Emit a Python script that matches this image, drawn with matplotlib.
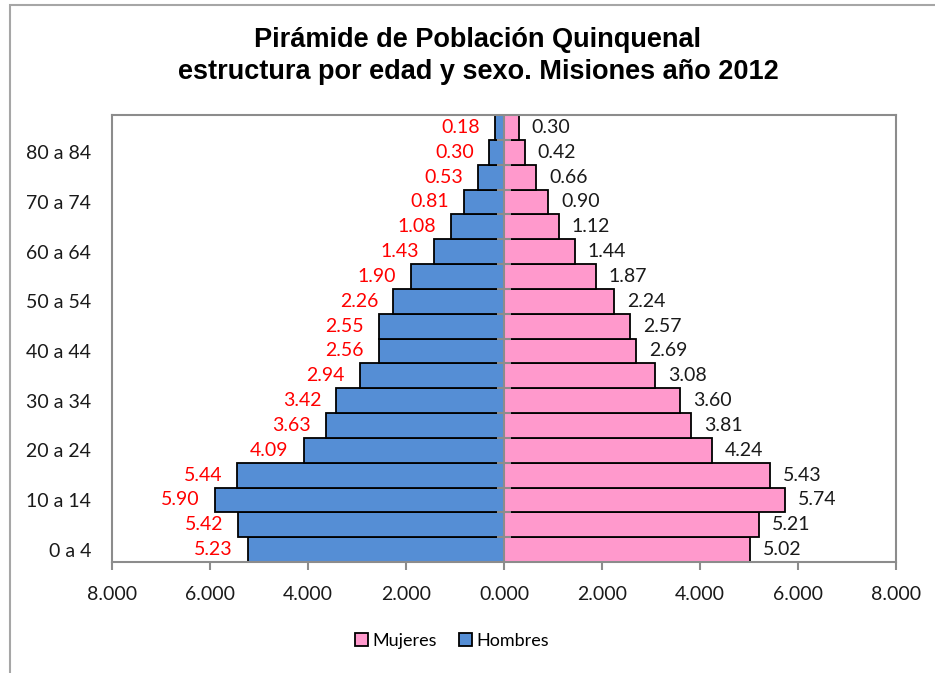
import numpy as np
import matplotlib
matplotlib.use("Agg")
from matplotlib import pyplot as plt
from matplotlib.patches import Rectangle, Patch

# age groups, bottom to top
grupos = ["0 a 4", "5 a 9", "10 a 14", "15 a 19", "20 a 24", "25 a 29",
          "30 a 34", "35 a 39", "40 a 44", "45 a 49", "50 a 54", "55 a 59",
          "60 a 64", "65 a 69", "70 a 74", "75 a 79", "80 a 84", "85 y más"]
hombres = [5.23, 5.42, 5.90, 5.44, 4.09, 3.63, 3.42, 2.94, 2.56, 2.55,
           2.26, 1.90, 1.43, 1.08, 0.81, 0.53, 0.30, 0.18]
mujeres = [5.02, 5.21, 5.74, 5.43, 4.24, 3.81, 3.60, 3.08, 2.69, 2.57,
           2.24, 1.87, 1.44, 1.12, 0.90, 0.66, 0.42, 0.30]
xticks = [-8, -6, -4, -2, 0, 2, 4, 6, 8]

font = ["Lato", "DejaVu Sans"]
gray = "#8c8c8c"
c_h = "#558ed5"
c_m = "#ff99cc"

fig = plt.figure(figsize=(9.35, 6.73), dpi=100)
ax = fig.add_axes([112/935, 1 - 562/673, (896-112)/935, (562-115)/673])

y = np.arange(len(grupos))
h = np.array(hombres)
m = np.array(mujeres)
ax.barh(y, -h, height=1.0, color=c_h, edgecolor="black", linewidth=1.3, zorder=2)
ax.barh(y, m, height=1.0, color=c_m, edgecolor="black", linewidth=1.3, zorder=2)

# zero axis with little tick marks between groups
ax.axvline(0, color=gray, lw=1.5, zorder=3)
ax.plot(np.zeros(len(grupos) - 1), y[:-1] + 0.5, ls="none", marker="_",
        ms=10, mew=1.5, color=gray, zorder=3)

for yi, v in zip(y, hombres):
    ax.annotate(f"{v:.2f}", (-v, yi), xytext=(-15, 0), textcoords="offset pixels",
                ha="right", va="center", color="#ff0000", fontsize=14, family=font)
for yi, v in zip(y, mujeres):
    ax.annotate(f"{v:.2f}", (v, yi), xytext=(13, 0), textcoords="offset pixels",
                ha="left", va="center", color="#1a1a1a", fontsize=14, family=font)

ax.set_xlim(-8, 8)
ax.set_ylim(-0.5, len(grupos) - 0.5)
ax.set_xticks(xticks)
ax.set_xticklabels([f"{abs(t):.3f}" for t in xticks], family=font, fontsize=14,
                   color="#1a1a1a")
ax.set_yticks(y[::2])
ax.set_yticklabels(grupos[::2], family=font, fontsize=14, color="#1a1a1a")
ax.tick_params(axis="y", length=0, pad=15)
ax.tick_params(axis="x", length=6, width=1.5, color=gray, pad=11)
for s in ax.spines.values():
    s.set_color(gray)
    s.set_linewidth(1.5)

fig.text(478/935, 1 - 40/673, "Pirámide de Población Quinquenal", ha="center",
         va="center", fontsize=19.5, fontweight="bold", family="Liberation Sans")
fig.text(478/935, 1 - 72/673, "estructura por edad y sexo. Misiones año 2012",
         ha="center", va="center", fontsize=19.5, fontweight="bold",
         family="Liberation Sans")

handles = [Patch(facecolor=c_m, edgecolor="black", lw=1.3, label="Mujeres"),
           Patch(facecolor=c_h, edgecolor="black", lw=1.3, label="Hombres")]
fig.legend(handles=handles, loc="center", bbox_to_anchor=(452/935, 1 - 641/673),
           ncol=2, frameon=False, handlelength=0.75, handleheight=0.75,
           handletextpad=0.25, columnspacing=1.2, prop={"family": font, "size": 13})

# outer chart border
fig.add_artist(Rectangle((10/935, -0.1), 1.2, (673-5)/673 + 0.1,
                         transform=fig.transFigure, fill=False,
                         edgecolor="#a6a6a6", lw=1.5))

fig.savefig("out.png", dpi=100, facecolor="white")
